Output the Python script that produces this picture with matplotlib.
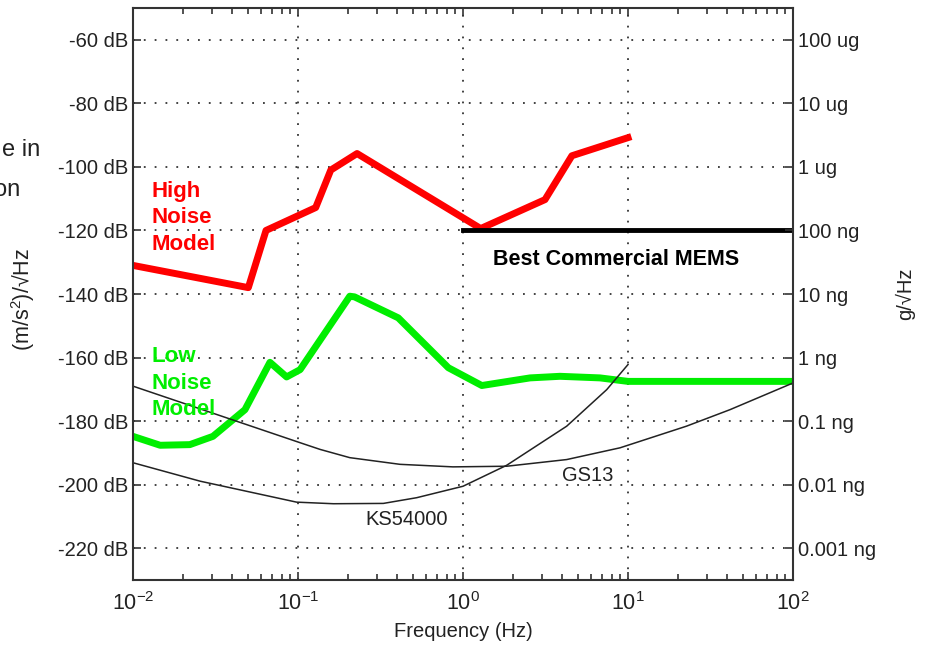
import numpy as np
import matplotlib
matplotlib.use("Agg")
import matplotlib.pyplot as plt
from matplotlib.ticker import LogLocator, NullFormatter, FixedLocator

plt.rcParams['font.family'] = ['Liberation Sans', 'DejaVu Sans']
plt.rcParams['mathtext.fontset'] = 'custom'
plt.rcParams['mathtext.rm'] = 'Liberation Sans'
plt.rcParams['mathtext.it'] = 'Liberation Sans:italic'

# High noise model (Hz, dB)
nhnm_f = [0.01, 0.05, 0.064, 0.128, 0.158, 0.228, 1.28, 3.14, 4.57, 10.0]
nhnm_db = [-131, -138, -120, -112.8, -101, -95.8, -119.4, -110.3, -96.5, -90.8]

# Low noise model
nlnm_f = [0.01, 0.0146, 0.0221, 0.0305, 0.0477, 0.0676, 0.0853, 0.103, 0.206, 0.22,
          0.405, 0.815, 1.30, 2.55, 3.87, 6.76, 10.0, 100.0]
nlnm_db = [-184.8, -187.6, -187.4, -184.8, -176.4, -161.5, -166.1, -163.8, -140.7, -140.9,
           -147.5, -163.2, -168.8, -166.4, -165.9, -166.4, -167.5, -167.5]

# GS13 sensor noise
gs13_f = [0.01, 0.103, 0.136, 0.206, 0.415, 0.869, 1.84, 4.25, 8.95, 22.6, 41.5, 100.0]
gs13_db = [-169.0, -186.8, -188.9, -191.5, -193.6, -194.4, -194.2, -192.1, -188.4, -181.6, -176.4, -168.0]

# KS54000 sensor noise
ks_f = [0.01, 0.0255, 0.098, 0.164, 0.329, 0.524, 1.0, 1.84, 4.25, 7.43, 10.0]
ks_db = [-193.1, -198.9, -205.5, -206.0, -205.9, -204.1, -200.5, -193.9, -181.6, -170.1, -162.2]

# best commercial MEMS level
mems_f = [1.0, 100.0]
mems_db = [-120, -120]

db_ticks = [-60, -80, -100, -120, -140, -160, -180, -200, -220]
g_labels = ['100 ug', '10 ug', '1 ug', '100 ng', '10 ng', '1 ng', '0.1 ng', '0.01 ng', '0.001 ng']

fig = plt.figure(figsize=(9.26, 6.52), dpi=100)
ax = fig.add_axes([133/926, 1-580/652, 660/926, 572/652])

ax.plot(nhnm_f, nhnm_db, color='#ff0000', lw=5, solid_joinstyle='round')
ax.plot(nlnm_f, nlnm_db, color='#00ee00', lw=5, solid_joinstyle='round')
ax.plot(gs13_f, gs13_db, color='#222222', lw=1.1)
ax.plot(ks_f, ks_db, color='#222222', lw=1.1)
ax.plot(mems_f, mems_db, color='black', lw=3.5)

ax.set_xscale('log')
ax.set_xlim(0.01, 100)
ax.set_ylim(-230, -50)
ax.set_yticks(db_ticks)
ax.set_yticklabels(['%d dB' % v for v in db_ticks])
ax.xaxis.set_major_locator(FixedLocator([0.01, 0.1, 1, 10, 100]))
ax.set_xticklabels(['$10^{-2}$', '$10^{-1}$', '$10^{0}$', '$10^{1}$', '$10^{2}$'])
ax.xaxis.set_minor_locator(LogLocator(base=10, subs=np.arange(2, 10)))
ax.xaxis.set_minor_formatter(NullFormatter())

ax.grid(True, which='major', linestyle=(0, (1, 5)), color='#333333', lw=1.3)
ax.tick_params(which='both', direction='in', top=True, right=False, colors='#333333',
               labelcolor='#222222', labelsize=14.5)
ax.tick_params(which='major', length=6, width=1.2)
ax.tick_params(which='minor', length=4, width=1.2)
ax.tick_params(axis='x', pad=9, labelsize=15.5)
for s in ax.spines.values():
    s.set_color('#333333')
    s.set_linewidth(1.5)

ax.set_xlabel('Frequency (Hz)', fontsize=14.5, color='#222222', labelpad=5)
ax.set_ylabel('(m/s$^2$)/\u221aHz', fontsize=15.5, color='#222222')
ax.yaxis.set_label_coords(-0.145, 0.49)

ax2 = ax.twinx()
ax2.set_ylim(-230, -50)
ax2.set_yticks(db_ticks)
ax2.set_yticklabels(g_labels)
ax2.tick_params(direction='in', length=6, width=1.2, colors='#333333', labelcolor='#222222',
                labelsize=14.5)
for s in ax2.spines.values():
    s.set_visible(False)
ax2.set_ylabel('g/\u221aHz', fontsize=14.5, color='#222222')
ax2.yaxis.set_label_coords(1.155, 0.5)

# annotations
ax.text(0.013, -104.5, 'High\nNoise\nModel', color='#ff0000', fontsize=16, fontweight='bold',
        va='top', ha='left', linespacing=1.33)
ax.text(0.013, -156.5, 'Low\nNoise\nModel', color='#00ee00', fontsize=16, fontweight='bold',
        va='top', ha='left', linespacing=1.33)
ax.text(1.52, -129, 'Best Commercial MEMS', fontsize=15.5, fontweight='bold', color='black',
        va='center', ha='left')
ax.text(3.98, -197, 'GS13', fontsize=14.5, color='#222222', va='center', ha='left')
ax.text(0.255, -211, 'KS54000', fontsize=14.5, color='#222222', va='center', ha='left')

# cut-off slide text at far left
fig.text(40/926, 1-150/652, 'e in', fontsize=17, ha='right', va='center', color='#222222')
fig.text(20/926, 1-190/652, 'on', fontsize=17, ha='right', va='center', color='#222222')

fig.savefig('out.png', dpi=100)
